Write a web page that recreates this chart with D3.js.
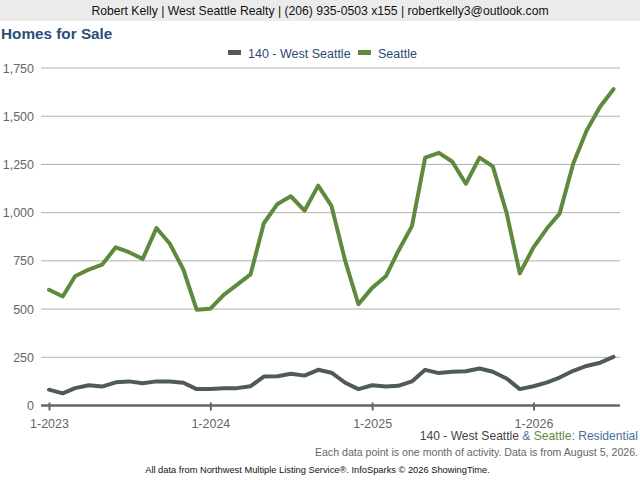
<!DOCTYPE html>
<html><head><meta charset="utf-8">
<script src="https://cdn.jsdelivr.net/npm/d3@7"></script>
<style>
html,body{margin:0;padding:0;background:#fff;}
svg{display:block;font-family:"Liberation Sans",Arial,sans-serif;}
</style></head>
<body>
<svg id="chart" width="640" height="480"></svg>
<script>
// Months Jan 2023 .. Jul 2026
const startYear = 2023, startMonth = 0, monthCount = 43;
const seriesNames = ["140 - West Seattle", "Seattle"];
const westSeattle = [82,63,90,105,98,120,125,115,125,125,118,85,85,90,90,100,150,152,165,155,185,
  170,118,85,105,98,102,125,185,168,175,178,192,175,140,85,100,120,145,180,205,222,252];
const seattle = [600,565,670,705,730,820,795,760,920,840,705,497,502,575,625,680,945,1045,1085,1010,1140,
  1035,750,525,610,670,800,930,1285,1310,1265,1150,1285,1240,1000,685,820,920,995,1255,1425,1550,1640];
const yTicks = [0,250,500,750,1000,1250,1500,1750];
const xTickLabels = ["1-2023","1-2024","1-2025","1-2026"];
const colors = ["#505b59", "#5f8a3e"];

const svg = d3.select("#chart");
const dates = d3.range(monthCount).map(i => new Date(startYear, startMonth + i, 1));

// header
svg.append("rect").attr("x",0).attr("y",0).attr("width",640).attr("height",21).attr("fill","#ebebeb");
svg.append("text").attr("x",320).attr("y",15).attr("text-anchor","middle").attr("font-size",12.2).attr("fill","#111")
  .text("Robert Kelly | West Seattle Realty | (206) 935-0503 x155 | robertkelly3@outlook.com");
svg.append("text").attr("x",1).attr("y",39).attr("font-size",15.3).attr("font-weight","bold").attr("fill","#2b4f77")
  .text("Homes for Sale");

const x = d3.scaleTime().domain([dates[0], dates[monthCount-1]]).range([49, 613.5]);
const y = d3.scaleLinear().domain([0,1750]).range([405.5, 68]);

// gridlines
svg.append("g").selectAll("line").data(yTicks.filter(d=>d>0)).join("line")
  .attr("x1",41).attr("x2",620).attr("y1",d=>y(d)).attr("y2",d=>y(d))
  .attr("stroke","#b0b0b0").attr("stroke-width",1);
// y labels
svg.append("g").selectAll("text").data(yTicks).join("text")
  .attr("x",34).attr("y",d=>y(d)+4.5).attr("text-anchor","end").attr("font-size",12.5).attr("fill","#666")
  .text(d=>d3.format(",")(d));

// x axis
const xAxis = d3.axisBottom(x).ticks(d3.timeYear.every(1)).tickSize(6)
  .tickFormat((d,i)=>xTickLabels[i]);
const gx = svg.append("g").attr("transform",`translate(0,${y(0)})`).call(xAxis);
gx.select(".domain").remove();
gx.selectAll(".tick line").attr("stroke","#666").attr("stroke-width",2).attr("y1",-3).attr("y2",5);
gx.selectAll(".tick text").attr("font-size",12.5).attr("fill","#666").attr("font-family","Liberation Sans, Arial, sans-serif").attr("dy","0").attr("y",22);
svg.append("line").attr("x1",41).attr("x2",620).attr("y1",y(0)).attr("y2",y(0)).attr("stroke","#666").attr("stroke-width",2.5);

// lines
const line = d3.line().x((d,i)=>x(dates[i])).y(d=>y(d));
[seattle, westSeattle].forEach((s,k)=>{
  svg.append("path").datum(s).attr("d",line).attr("fill","none")
    .attr("stroke", k===0?colors[1]:colors[0]).attr("stroke-width",4).attr("stroke-linejoin","round").attr("stroke-linecap","round");
});

// legend
const leg = svg.append("g");
const legItems = [{name:seriesNames[0],c:colors[0],x:228},{name:seriesNames[1],c:colors[1],x:358}];
legItems.forEach(it=>{
  leg.append("rect").attr("x",it.x).attr("y",50).attr("width",13).attr("height",5).attr("fill",it.c);
  leg.append("text").attr("x",it.x+20).attr("y",57.5).attr("font-size",12.5).attr("fill","#2e4a6e").text(it.name);
});

// footer
const f1 = svg.append("text").attr("x",638).attr("y",440).attr("text-anchor","end").attr("font-size",12.1);
f1.append("tspan").attr("fill","#444").text("140 - West Seattle");
f1.append("tspan").attr("fill","#4a6f9a").text(" & ");
f1.append("tspan").attr("fill","#5f8a3e").text("Seattle");
f1.append("tspan").attr("fill","#4a6f9a").text(": Residential");
svg.append("text").attr("x",638).attr("y",456).attr("text-anchor","end").attr("font-size",10.6).attr("fill","#666")
  .text("Each data point is one month of activity. Data is from August 5, 2026.");
svg.append("text").attr("x",317.5).attr("y",472.5).attr("text-anchor","middle").attr("font-size",9.3).attr("fill","#111")
  .text("All data from Northwest Multiple Listing Service®. InfoSparks © 2026 ShowingTime.");
</script>
</body></html>
